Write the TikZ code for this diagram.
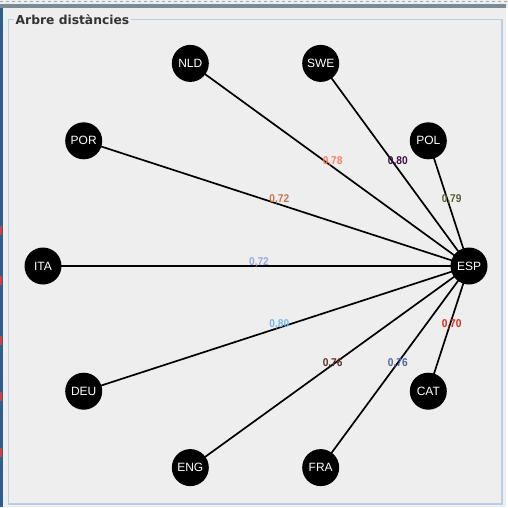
\documentclass[tikz,border=0pt]{standalone}
\usepackage{fontspec}
\setmainfont{Liberation Sans}
\newfontfamily\titlefont{DejaVu Sans}
\newfontfamily\labelfont[FakeStretch=0.9]{Liberation Sans}
\usetikzlibrary{backgrounds}
\definecolor{bg}{HTML}{EEEEEE}
\definecolor{frameblue}{HTML}{B8CFE3}
\definecolor{chromegray}{HTML}{7C8A96}
\definecolor{chromeblue}{HTML}{2F5F8F}
\definecolor{chromered}{HTML}{D04040}
\definecolor{titlecol}{HTML}{333333}
\definecolor{cA}{HTML}{FF8060}
\definecolor{cB}{HTML}{3C1040}
\definecolor{cC}{HTML}{556030}
\definecolor{cD}{HTML}{C87850}
\definecolor{cE}{HTML}{96AAE1}
\definecolor{cF}{HTML}{78B4F0}
\definecolor{cG}{HTML}{5A3228}
\definecolor{cH}{HTML}{5064A0}
\definecolor{cI}{HTML}{D2281E}
\begin{document}
\begin{tikzpicture}[x=1pt,y=-1pt,
  country/.style={circle,fill=black,minimum size=37pt,inner sep=0pt,text=white,font=\fontsize{12}{12}\selectfont},
  link/.style={line width=1.7pt,black},
  dist/.style={font=\labelfont\bfseries\fontsize{11.3}{11.3}\selectfont,inner sep=0pt,xshift=3pt,yshift=3.7pt}]
\useasboundingbox (0,0) rectangle (508,507);
% nodes
\node[country] (ESP) at (469,266) {ESP};
\node[country] (POL) at (428.3,140.8) {POL};
\node[country] (SWE) at (320.7,63.4) {SWE};
\node[country] (NLD) at (190.3,63.4) {NLD};
\node[country] (POR) at (83.7,140.8) {POR};
\node[country] (ITA) at (43,266) {ITA};
\node[country] (DEU) at (83.7,391.2) {DEU};
\node[country] (ENG) at (190.3,467.6) {ENG};
\node[country] (FRA) at (320.7,467.6) {FRA};
\node[country] (CAT) at (428.3,391.2) {CAT};
\begin{scope}[on background layer]
\fill[bg] (0,0) rectangle (508,507);
% window chrome
\draw[gray!70,dashed,line width=1pt] (0,1.3) -- (508,1.3);
\fill[chromegray] (0,4) rectangle (506,7.5);
\fill[white] (505.5,7.5) rectangle (508,507);
\fill[chromeblue] (0,7.5) rectangle (2.5,507);
\foreach \yy in {226,276,336,392,448} \fill[chromered] (0,\yy) rectangle (2,\yy+9);
% frame
\draw[frameblue,line width=1.2pt] (8.5,19.5) rectangle (502,504);
\node[fill=bg,inner xsep=2pt,inner ysep=1pt,anchor=west,text=titlecol,font=\titlefont\bfseries\fontsize{12.3}{12.3}\selectfont] (title) at (13.5,19.5) {Arbre distàncies};
% edges
\draw[link] (ESP.center) -- node[dist,text=cA] {0,78} (NLD.center);
\draw[link] (ESP.center) -- node[dist,text=cB] {0,80} (SWE.center);
\draw[link] (ESP.center) -- node[dist,text=cC] {0,79} (POL.center);
\draw[link] (ESP.center) -- node[dist,text=cD] {0,72} (POR.center);
\draw[link] (ESP.center) -- node[dist,text=cE] {0,72} (ITA.center);
\draw[link] (ESP.center) -- node[dist,text=cF] {0,80} (DEU.center);
\draw[link] (ESP.center) -- node[dist,text=cG] {0,76} (ENG.center);
\draw[link] (ESP.center) -- node[dist,text=cH] {0,76} (FRA.center);
\draw[link] (ESP.center) -- node[dist,text=cI] {0,70} (CAT.center);
\end{scope}
\end{tikzpicture}
\end{document}
